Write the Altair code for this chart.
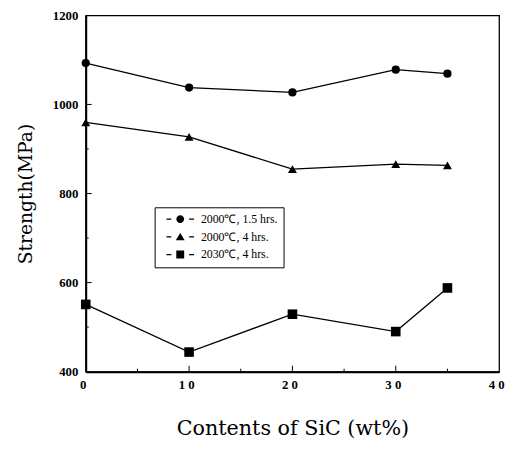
import altair as alt
import pandas as pd

# ---- data ----
sic = [0, 10, 20, 30, 35]
series_names = ["2000℃, 1.5 hrs.", "2000℃, 4 hrs.", "2030℃, 4 hrs."]
s_circle = [1093, 1038, 1027, 1078, 1069]
s_triangle = [960, 927, 855, 866, 863]
s_square = [551, 444, 529, 490, 588]

x_major_ticks = [10, 20, 30]
x_minor_ticks = [5, 15, 25, 35]
y_major_ticks = [600, 800, 1000]
y_minor_ticks = [500, 700, 900]
x_labels = [0, 10, 20, 30, 40]
y_labels = [400, 600, 800, 1000, 1200]

rows = []
for name, vals in zip(series_names, [s_circle, s_triangle, s_square]):
    for xv, yv in zip(sic, vals):
        rows.append({"x": xv, "y": yv, "series": name})
df = pd.DataFrame(rows)

W, H = 420, 362
SERIF = "Liberation Serif"

xscale = alt.Scale(domain=[0, 40], nice=False, zero=False)
yscale = alt.Scale(domain=[400, 1200], nice=False, zero=False)

x_axis = alt.Axis(
    values=x_labels, title="Contents of SiC (wt%)", titleFont="DejaVu Serif",
    titleFontSize=21, titleFontWeight="normal", titlePadding=27, titleColor="black",
    labelFont=SERIF, labelFontSize=13, labelFontWeight="bold", labelColor="black",
    labelPadding=7, labelFlush=False, labelOffset=-3,
    labelExpr="datum.value == 0 ? '0' : (datum.value / 10) + ' 0'",
    ticks=False, grid=False, domainColor="black", domainWidth=2,
)
y_axis = alt.Axis(
    values=y_labels, format="d", title="Strength(MPa)", titleFont="DejaVu Serif",
    titleFontSize=19, titleFontWeight="normal", titlePadding=17, titleColor="black",
    labelFont=SERIF, labelFontSize=13, labelFontWeight="bold", labelColor="black",
    labelPadding=8, ticks=False, grid=False, domainColor="black", domainWidth=2,
)

base = alt.Chart(df)

lines = base.mark_line(color="black", strokeWidth=1.3).encode(
    x=alt.X("x:Q", scale=xscale, axis=x_axis),
    y=alt.Y("y:Q", scale=yscale, axis=y_axis),
    detail="series:N",
)

points = base.mark_point(filled=True, color="black", opacity=1).encode(
    x=alt.X("x:Q", scale=xscale),
    y=alt.Y("y:Q", scale=yscale),
    shape=alt.Shape("series:N", scale=alt.Scale(domain=series_names,
                    range=["circle", "triangle-up", "square"]), legend=None),
    size=alt.Size("series:N", scale=alt.Scale(domain=series_names,
                  range=[70, 95, 80]), legend=None),
)

DASHES = "M0,-0.6H5V0.6H0ZM23,-0.6H28V0.6H23Z"
legend_paths = [
    DASHES + "M10,0A4,4 0 1,0 18,0A4,4 0 1,0 10,0Z",
    DASHES + "M14,-4L18.5,3.5L9.5,3.5Z",
    DASHES + "M10,-4H18V4H10Z",
]

legend_layer = base.mark_point(filled=True, color="black", opacity=0).encode(
    x=alt.X("x:Q", scale=xscale),
    y=alt.Y("y:Q", scale=yscale),
    shape=alt.Shape("series:N", scale=alt.Scale(domain=series_names, range=legend_paths),
                    legend=alt.Legend(
                        title=None, orient="none", legendX=70, legendY=195,
                        strokeColor="black", fillColor="white", padding=6,
                        labelFont=SERIF, labelFontSize=12, labelColor="black",
                        labelOffset=29, rowPadding=4, symbolSize=4,
                        symbolOpacity=1, symbolFillColor="black",
                        labelLimit=200,
                    )),
)

def xticks(vals, length):
    d = pd.DataFrame({"t": vals})
    return alt.Chart(d).mark_rule(color="black", strokeWidth=1).encode(
        x=alt.X("t:Q", scale=xscale), y=alt.value(H), y2=alt.value(H - length))

def yticks(vals, length):
    d = pd.DataFrame({"t": vals})
    return alt.Chart(d).mark_rule(color="black", strokeWidth=1).encode(
        y=alt.Y("t:Q", scale=yscale), x=alt.value(0), x2=alt.value(length))

chart = alt.layer(
    xticks(x_major_ticks, 6), xticks(x_minor_ticks, 3),
    yticks(y_major_ticks, 6), yticks(y_minor_ticks, 3),
    lines, points, legend_layer,
).resolve_scale(shape="independent", size="independent").properties(
    width=W, height=H,
    padding={"left": 79, "top": 4, "right": 6, "bottom": 70},
    autosize=alt.AutoSizeParams(type="none"),
    background="white",
).configure_view(stroke="black", strokeWidth=1.3)

chart.save("out.html", embed_options={"renderer": "svg", "actions": False})
